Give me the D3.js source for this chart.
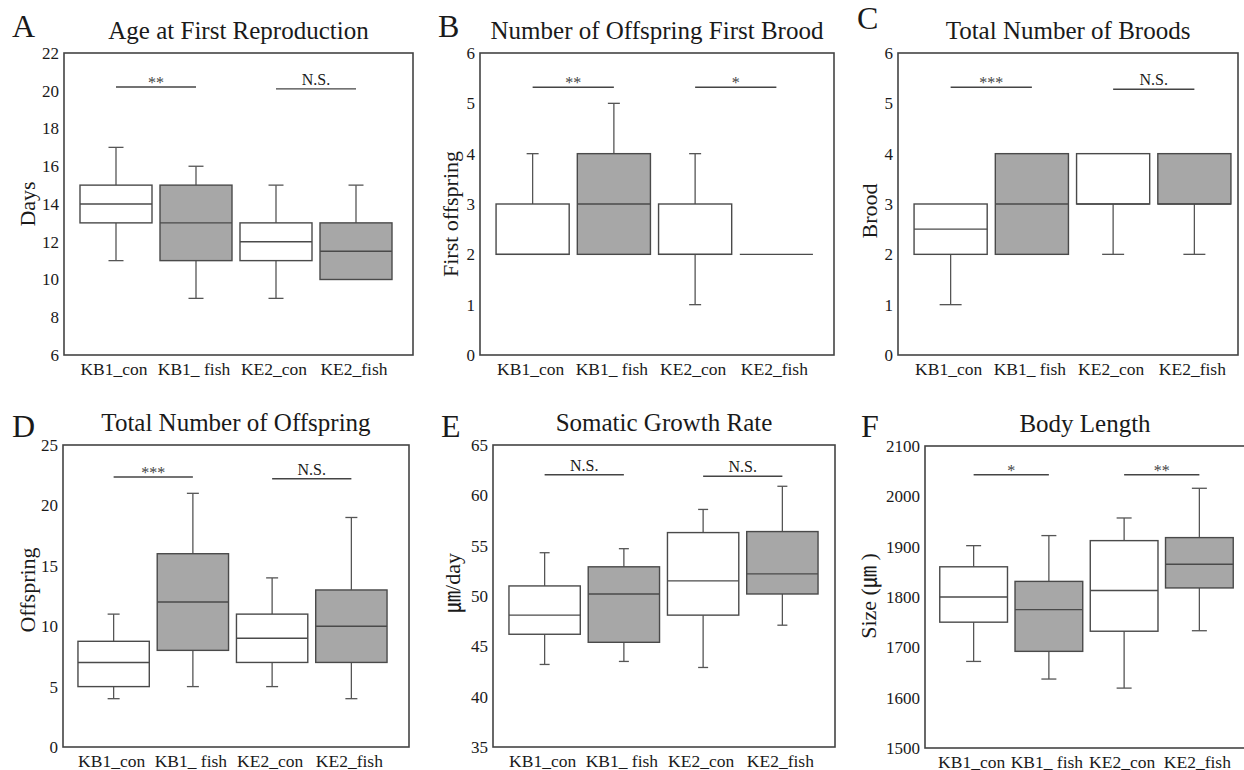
<!DOCTYPE html>
<html>
<head>
<meta charset="utf-8">
<script src="https://cdn.jsdelivr.net/npm/d3@7"></script>
<style>
	body { margin: 0; background: #fff; }
	svg { display: block; }
</style>
</head>
<body>
<svg id="fig" width="1244" height="770"></svg>
<script>
// ============== data ==============
const groups = ["KB1_con", "KB1_ fish", "KE2_con", "KE2_fish"];

// [min, q1, median, q3, max]
const ageStats = [[11, 13, 14, 15, 17], [9, 11, 13, 15, 16], [9, 11, 12, 13, 15], [10, 10, 11.5, 13, 15]];
const firstBroodStats = [[2, 2, 2, 3, 4], [2, 2, 3, 4, 5], [1, 2, 2, 3, 4], [2, 2, 2, 2, 2]];
const broodStats = [[1, 2, 2.5, 3, 3], [2, 2, 3, 4, 4], [2, 3, 3, 4, 4], [2, 3, 3, 4, 4]];
const offspringStats = [[4, 5, 7, 8.75, 11], [5, 8, 12, 16, 21], [5, 7, 9, 11, 14], [4, 7, 10, 13, 19]];
const growthStats = [[43.2, 46.2, 48.1, 51.0, 54.3], [43.5, 45.4, 50.2, 52.9, 54.7], [42.9, 48.1, 51.5, 56.3, 58.6], [47.1, 50.2, 52.2, 56.4, 60.9]];
const lengthStats = [[1672, 1750, 1800, 1860, 1902], [1637, 1692, 1775, 1831, 1922], [1619, 1732, 1813, 1912, 1957], [1733, 1818, 1865, 1918, 2016]];

const ageTicks = [6, 8, 10, 12, 14, 16, 18, 20, 22];
const firstBroodTicks = [0, 1, 2, 3, 4, 5, 6];
const broodTicks = [0, 1, 2, 3, 4, 5, 6];
const offspringTicks = [0, 5, 10, 15, 20, 25];
const growthTicks = [35, 40, 45, 50, 55, 60, 65];
const lengthTicks = [1500, 1600, 1700, 1800, 1900, 2000, 2100];

// significance (KB1 pair, KE2 pair)
const ageSigLabels = ["**", "N.S."], ageSigY = [20.2, 20.1];
const firstBroodSigLabels = ["**", "*"], firstBroodSigY = [5.32, 5.32];
const broodSigLabels = ["***", "N.S."], broodSigY = [5.32, 5.28];
const offspringSigLabels = ["***", "N.S."], offspringSigY = [22.35, 22.2];
const growthSigLabels = ["N.S.", "N.S."], growthSigY = [62.05, 61.9];
const lengthSigLabels = ["*", "**"], lengthSigY = [2043, 2043];

// ============== layout ==============
const panels = [
	{ letter: "A", title: "Age at First Reproduction", ylab: "Days", stats: ageStats, ticks: ageTicks, sig: ageSigLabels, sigY: ageSigY,
	  x: 64, y: 53, w: 349, h: 302, band: [12, 332], cap: 15, lx: 12, ly: 37, yl: 27, yly: 204 },
	{ letter: "B", title: "Number of Offspring First Brood", ylab: "First offspring", stats: firstBroodStats, ticks: firstBroodTicks, sig: firstBroodSigLabels, sigY: firstBroodSigY,
	  x: 480, y: 53, w: 354, h: 302, band: [12, 337], cap: 12, lx: 438, ly: 37, yl: 450, yly: 214 },
	{ letter: "C", title: "Total Number of Broods", ylab: "Brood", stats: broodStats, ticks: broodTicks, sig: broodSigLabels, sigY: broodSigY,
	  x: 898, y: 53, w: 340, h: 302, band: [12, 337], cap: 22, lx: 857, ly: 29, yl: 869, yly: 211 },
	{ letter: "D", title: "Total Number of Offspring", ylab: "Offspring", stats: offspringStats, ticks: offspringTicks, sig: offspringSigLabels, sigY: offspringSigY,
	  x: 63, y: 445, w: 346, h: 302, band: [11, 328], cap: 12, lx: 12, ly: 437, yl: 27, yly: 590 },
	{ letter: "E", title: "Somatic Growth Rate", ylab: "㎛/day", stats: growthStats, ticks: growthTicks, sig: growthSigLabels, sigY: growthSigY,
	  x: 493, y: 445, w: 342, h: 302, band: [12, 329], cap: 10, lx: 441, ly: 437, yl: 452, yly: 583 },
	{ letter: "F", title: "Body Length", ylab: "Size (㎛ )", stats: lengthStats, ticks: lengthTicks, sig: lengthSigLabels, sigY: lengthSigY,
	  x: 925, y: 446, w: 320, h: 302, band: [11, 312], cap: 15, lx: 861, ly: 437, yl: 868, yly: 596 }
];

const serif = '"Liberation Serif", "Tinos", "Noto Sans CJK KR", serif';
const ink = "#1a1a1a";
const svg = d3.select("#fig").style("font-family", serif);

panels.forEach(p => drawPanel(p));

function addText(sel, size) {
	return sel.append("text")
		.style("font-family", serif)
		.style("font-size", size + "px")
		.style("fill", ink);
}

function drawPanel(p) {
	const x = d3.scaleBand()
		.domain(groups)
		.range(p.band)
		.paddingInner(0.1)
		.paddingOuter(0.05);

	const y = d3.scaleLinear()
		.domain(d3.extent(p.ticks))
		.range([p.h, 0]);

	const g = svg.append("g").attr("transform", `translate(${p.x},${p.y})`);

	// panel letter
	addText(svg, 32)
		.attr("x", p.lx)
		.attr("y", p.ly)
		.text(p.letter);

	// title
	addText(svg, 25)
		.attr("x", p.x + p.w / 2)
		.attr("y", p.y - 14)
		.attr("text-anchor", "middle")
		.text(p.title);

	// y axis (labels only, no tick marks)
	const yAxis = g.append("g")
		.call(d3.axisLeft(y).tickValues(p.ticks).tickFormat(d3.format("d")).tickSize(0).tickPadding(5));
	yAxis.select(".domain").remove();
	yAxis.selectAll("text")
		.style("font-family", serif)
		.style("font-size", "17px")
		.style("fill", ink);

	// x axis labels
	const xAxis = g.append("g")
		.attr("transform", `translate(0,${p.h})`)
		.call(d3.axisBottom(x).tickSize(0).tickPadding(0));
	xAxis.select(".domain").remove();
	xAxis.selectAll("text")
		.attr("y", 20)
		.attr("dy", 0)
		.attr("x", -2)
		.style("font-family", serif)
		.style("font-size", "17.5px")
		.style("fill", ink);

	// y label
	addText(svg, 22)
		.attr("transform", `translate(${p.yl},${p.yly}) rotate(-90)`)
		.attr("text-anchor", "middle")
		.attr("dy", "0.35em")
		.text(p.ylab);

	// boxes
	const box = g.selectAll(".box")
		.data(p.stats.map((s, i) => ({ name: groups[i], s: s })))
		.enter().append("g")
		.attr("class", "box");

	const cx = d => x(d.name) + x.bandwidth() / 2;

	// whiskers
	box.each(function (d) {
		const b = d3.select(this);
		const [mn, q1, md, q3, mx] = d.s;
		[[q3, mx], [q1, mn]].forEach(([a, e]) => {
			if (a === e) return;
			b.append("line")
				.attr("x1", cx(d)).attr("x2", cx(d))
				.attr("y1", y(a)).attr("y2", y(e))
				.attr("stroke", "#555").attr("stroke-width", 1.3);
			b.append("line")
				.attr("x1", cx(d) - p.cap / 2).attr("x2", cx(d) + p.cap / 2)
				.attr("y1", y(e)).attr("y2", y(e))
				.attr("stroke", "#555").attr("stroke-width", 1.3);
		});
	});

	box.append("rect")
		.attr("x", d => x(d.name))
		.attr("width", x.bandwidth())
		.attr("y", d => y(d.s[3]))
		.attr("height", d => y(d.s[1]) - y(d.s[3]))
		.attr("fill", d => d.name.indexOf("fish") >= 0 ? "#a7a7a7" : "#fff")
		.attr("stroke", "#4a4a4a")
		.attr("stroke-width", 1.4);

	box.append("line")
		.attr("x1", d => x(d.name))
		.attr("x2", d => x(d.name) + x.bandwidth())
		.attr("y1", d => y(d.s[2]))
		.attr("y2", d => y(d.s[2]))
		.attr("stroke", "#4a4a4a")
		.attr("stroke-width", 1.4);

	// significance bars
	[[0, 1], [2, 3]].forEach(([a, b], i) => {
		const x1 = cx({ name: groups[a] }), x2 = cx({ name: groups[b] });
		const yy = y(p.sigY[i]);
		g.append("line")
			.attr("x1", x1).attr("x2", x2)
			.attr("y1", yy).attr("y2", yy)
			.attr("stroke", "#444").attr("stroke-width", 1.4);
		const star = p.sig[i] !== "N.S.";
		addText(g, 16)
			.attr("x", (x1 + x2) / 2)
			.attr("y", star ? yy + 1 : yy - 4)
			.attr("text-anchor", "middle")
			.style("fill", star ? "#444" : ink)
			.text(p.sig[i]);
	});

	// frame
	g.append("rect")
		.attr("width", p.w)
		.attr("height", p.h)
		.attr("fill", "none")
		.attr("stroke", "#444")
		.attr("stroke-width", 1.6);
}
</script>
</body>
</html>
